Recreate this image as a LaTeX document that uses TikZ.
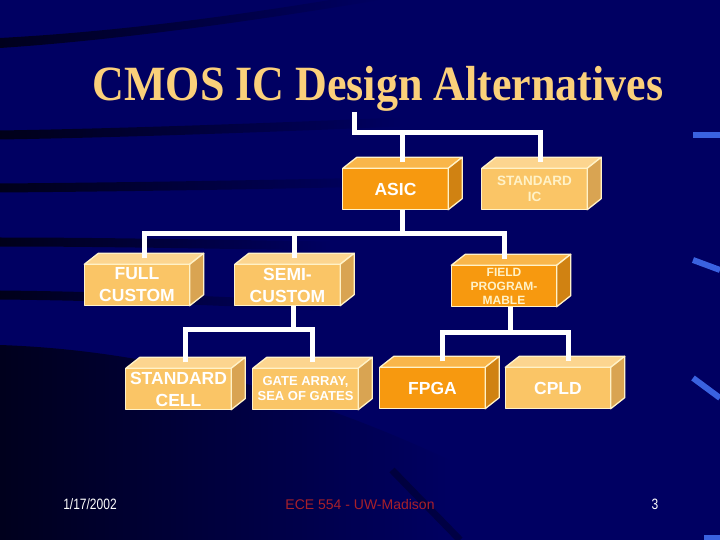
\documentclass[tikz,border=0pt]{standalone}
\usepackage{fontspec}
\usepackage{graphicx}
\setmainfont{Liberation Serif}
\setsansfont{Liberation Sans}
\usetikzlibrary{calc, fadings}

\definecolor{bg}{HTML}{000062}
\definecolor{dfront}{HTML}{F7990F}
\definecolor{dtop}{HTML}{F9B64A}
\definecolor{dside}{HTML}{D08212}
\definecolor{lfront}{HTML}{FAC566}
\definecolor{ltop}{HTML}{FCD58F}
\definecolor{lside}{HTML}{D9A452}
\definecolor{cream}{HTML}{FFF2C8}
\definecolor{titlecol}{HTML}{FBD07A}
\definecolor{footred}{HTML}{A8202A}
\definecolor{glintcol}{HTML}{3A62E0}

\begin{document}
\begin{tikzpicture}[x=1pt, y=-1pt,
    block/.style={inner sep=0pt, minimum width=105pt, minimum height=41pt,
                  align=center, text=white,
                  font=\sffamily\bfseries\fontsize{17.5}{22}\selectfont},
    small/.style={font=\sffamily\bfseries\fontsize{13.5}{16}\selectfont},
    tiny/.style={font=\sffamily\bfseries\fontsize{12}{14}\selectfont},
    rim/.style={draw=cream, line width=1.3pt, line join=round},
    wire/.style={draw=white, line width=5pt},
    streak/.style={draw=black, line width=9pt, opacity=.75, path fading=east},
    glint/.style={draw=glintcol, line width=6pt},
    foot/.style={anchor=base, font=\sffamily\fontsize{15}{15}\selectfont},
]
\useasboundingbox (0,0) rectangle (720,540);
% ---- background ----
\fill[bg] (0,0) rectangle (720,540);
\fill[black, opacity=.7, path fading=east]
    (0,48) .. controls (120,40) and (260,20) .. (380,0) -- (330,0)
    .. controls (220,18) and (110,32) .. (0,38) -- cycle;
\draw[streak] (0,135) .. controls (120,133) and (260,128) .. (400,122);
\draw[streak] (0,188) .. controls (120,187) and (250,185) .. (380,182);
\draw[streak] (0,242) .. controls (100,242) and (200,244) .. (330,246);
\draw[streak] (0,295) .. controls (100,296) and (200,300) .. (320,306);
\fill[black, opacity=.7, path fading=east]
    (0,345) .. controls (150,350) and (300,390) .. (450,460)
    -- (450,540) -- (0,540) -- cycle;
\draw[black, line width=7pt, opacity=.3] (392,470) -- (460,540);
\draw[glint] (693,135) -- (720,135);
\draw[glint] (693,260) -- (720,270);
\draw[glint] (693,378) -- (720,398);
\draw[glint] (704,538) -- (720,538);

% ---- title ----
\node[anchor=base, text=titlecol, font=\bfseries\fontsize{44}{44}\selectfont]
    (title) at (378,101) {\scalebox{1}[1.12]{CMOS IC Design Alternatives}};
\coordinate (root) at (354.5,112);

% ---- boxes ----
\node[block, fill=dfront]        (asic)    at (395.5,189) {ASIC};
\node[block, small, fill=lfront, text=cream] (stdic) at (534.5,189) {STANDARD\\IC};
\node[block, fill=lfront]        (full)    at (137,285)   {FULL\\CUSTOM};
\node[block, fill=lfront]        (semi)    at (287.5,285) {SEMI-\\CUSTOM};
\node[block, tiny, fill=dfront, text=cream] (field) at (504,286) {FIELD\\PROGRAM-\\MABLE};
\node[block, fill=lfront]        (stdcell) at (178.5,389) {STANDARD\\CELL};
\node[block, tiny, fill=lfront, font=\sffamily\bfseries\fontsize{13}{15}\selectfont]
                                 (gate)    at (305.5,389) {GATE ARRAY,\\SEA OF GATES};
\node[block, fill=dfront]        (fpga)    at (432.5,388) {FPGA};
\node[block, fill=lfront]        (cpld)    at (558,388)   {CPLD};

\foreach \n/\t/\s in {asic/dtop/dside, stdic/ltop/lside, full/ltop/lside,
                      semi/ltop/lside, field/dtop/dside, stdcell/ltop/lside,
                      gate/ltop/lside, fpga/dtop/dside, cpld/ltop/lside}{
  \filldraw[rim, fill=\t] (\n.north west) -- ++(14,-11)
      -- ($(\n.north east)+(14,-11)$) -- (\n.north east) -- cycle;
  \filldraw[rim, fill=\s] (\n.north east) -- ++(14,-11)
      -- ($(\n.south east)+(14,-11)$) -- (\n.south east) -- cycle;
  \draw[rim] (\n.south west) rectangle (\n.north east);
}

% ---- tree connectors ----
\draw[wire] (root) |- ($(stdic.north)+(6,-36)$) -- ($(stdic.north)+(6,-6)$);
\draw[wire] ($(asic.north)+(7,-36)$) -- ($(asic.north)+(7,-6)$);

\draw[wire] ($(asic.south)+(7,0)$) -- ++(0,26);
\draw[wire] ($(full.north)+(7,-6)$) |- ($(field.north)+(0,-32)$) -- ($(field.north)+(0,-6)$);
\draw[wire] ($(semi.north)+(7,-30)$) -- ($(semi.north)+(7,-6)$);

\draw[wire] ($(semi.south)+(6,0)$) -- ++(0,25);
\draw[wire] ($(stdcell.north)+(7,-6)$) |- ($(gate.north)+(7,-39)$) -- ($(gate.north)+(7,-6)$);

\draw[wire] ($(field.south)+(6,0)$) -- ++(0,27);
\draw[wire] ($(fpga.north)+(10,-6)$) |- ($(cpld.north)+(10,-35)$) -- ($(cpld.north)+(10,-6)$);

% ---- footer ----
\node[foot, text=white]   (date) at (90,509)  {\scalebox{.8}[1]{1/17/2002}};
\node[foot, text=footred, font=\sffamily\fontsize{14}{14}\selectfont]
                          (course) at (360,509) {ECE 554 - UW-Madison};
\node[foot, text=white]   (page) at (655,509) {\scalebox{.8}[1]{3}};
\end{tikzpicture}
\end{document}
